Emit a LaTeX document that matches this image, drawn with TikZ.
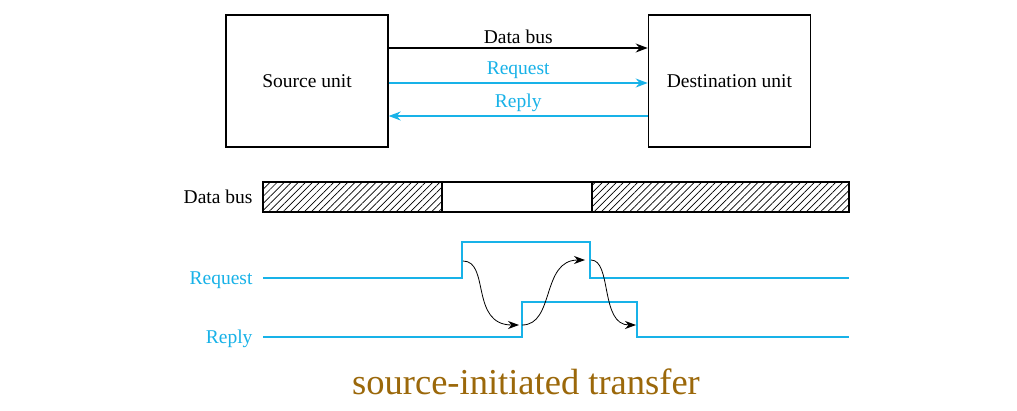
\documentclass[tikz,border=0pt]{standalone}
\usepackage{fontspec}
\setmainfont{Liberation Serif}
\usetikzlibrary{positioning, arrows.meta, patterns.meta}

\definecolor{sigblue}{RGB}{24,178,232}
\definecolor{captbrown}{RGB}{155,104,10}

\begin{document}
\begin{tikzpicture}[
    x=1pt, y=-1pt,
    font=\fontsize{19.5}{23}\selectfont,
    unit/.style={
        draw,
        line width=1.4pt,
        minimum width=162pt,
        minimum height=132pt
    },
    arrow/.style={
        -{Stealth[length=12pt,width=9pt]},
        line width=1.1pt
    },
    flow/.style={
        -{Stealth[length=11pt,width=8pt]},
        line width=0.8pt
    },
    wave/.style={
        sigblue,
        line width=2.6pt
    },
    busbox/.style={
        draw,
        line width=1.4pt,
        minimum height=30pt,
        inner sep=0pt,
        outer sep=0pt
    },
    hatched/.style={
        busbox,
        pattern={Lines[angle=45,distance=5pt,line width=0.7pt]}
    }
]

\useasboundingbox (0,0) rectangle (1017,410);
\fill[white] (0,0) rectangle (1017,410);

% units
\node[unit] (src) at (307,81) {Source unit};
\node[unit, right=259pt of src] (dst) {Destination unit};

\draw[arrow] ([yshift=33pt]src.east) -- node[above] {Data bus} ([yshift=33pt]dst.west);
\draw[arrow, sigblue] ([yshift=-2pt]src.east) -- node[above] {Request} ([yshift=-2pt]dst.west);
\draw[arrow, sigblue] ([yshift=-35pt]dst.west) -- node[above] {Reply} ([yshift=-35pt]src.west -| src.east);

% data bus
\node[hatched, minimum width=179pt] (busA) at (352.5,197) {};
\node[busbox, minimum width=150pt, right=0pt of busA] (busB) {};
\node[hatched, minimum width=257pt, right=0pt of busB] (busC) {};
\draw[line width=2pt] (busB.north west) -- ++(73,0);
\draw[line width=2pt] (busB.south west) -- ++(73,0);
\node[left=7pt of busA.west] (buslabel) {Data bus};

% request / reply
\coordinate (rqStart) at (263,278);
\coordinate (rpStart) at (263,337);
\draw[wave] (rqStart) -- (462,278) -- (462,242) -- (590,242) -- (590,278) -- (849,278);
\draw[wave] (rpStart) -- (522,337) -- (522,302) -- (637,302) -- (637,337) -- (849,337);
\node[left=7pt of rqStart, yshift=-2pt, sigblue] (rqlabel) {Request};
\node[left=7pt of rpStart, yshift=-2pt, sigblue] (rplabel) {Reply};

\coordinate (rqUp) at (463,261);
\coordinate (rpUp) at (519,325);
\coordinate (rqDown) at (585,260);
\coordinate (rqDown2) at (591,260);
\coordinate (rpDown) at (636,325);
\draw[flow] (rqUp) .. controls +(27,0) and +(-49,0) .. (rpUp);
\draw[flow] ([xshift=3pt]rpUp) .. controls +(33,0) and +(-44,0) .. (rqDown);
\draw[flow] (rqDown2) .. controls +(21,0) and +(-36,0) .. (rpDown);

\node[captbrown, font=\fontsize{36.5}{42}\selectfont] (caption) at (526,382) {source-initiated transfer};

\end{tikzpicture}
\end{document}
